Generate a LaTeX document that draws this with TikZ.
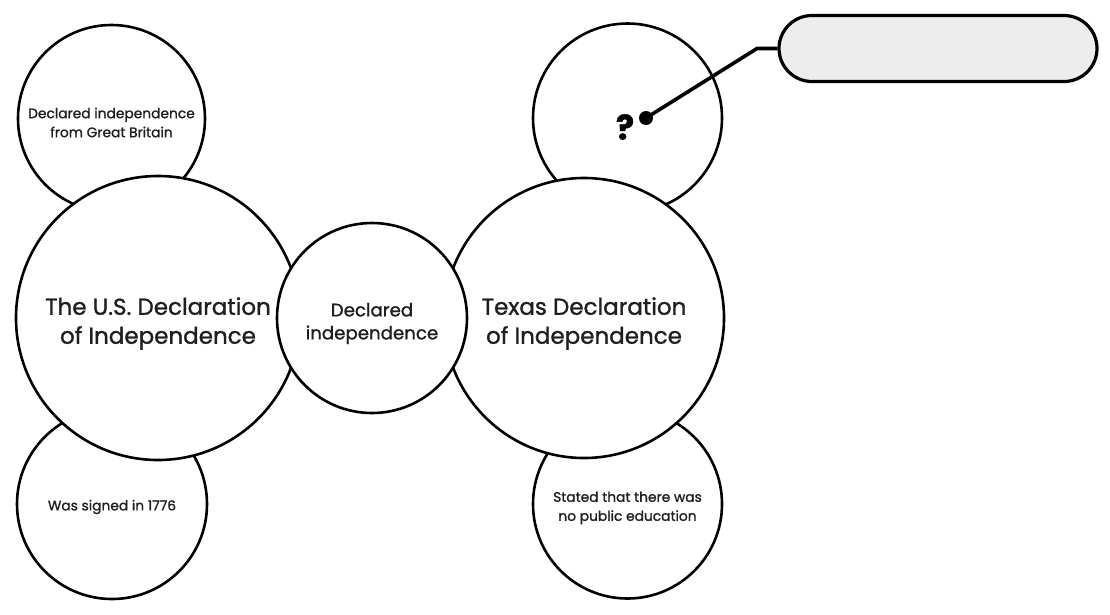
\documentclass[tikz,border=0pt]{standalone}
\usepackage{fontspec}
\setmainfont{Poppins}[FakeBold=1.2]
\begin{document}
\begin{tikzpicture}[x=1pt,y=-1pt,
  bub/.style={circle,draw=black,fill=white,line width=2.6pt,inner sep=0pt},
  txt/.style={align=center,text=black!88,inner sep=0pt},
  smalltxt/.style={txt,font=\fontsize{13.8}{19}\selectfont},
  midtxt/.style={txt,font=\fontsize{18.2}{23}\selectfont},
  bigtxt/.style={txt,font=\fontsize{23}{29}\selectfont},
  pill/.style={draw=black,fill=black!7,line width=3.2pt,rounded corners=33pt,minimum width=318pt,minimum height=66pt},
  lead/.style={draw=black,line width=3.6pt}]
\useasboundingbox (0,0) rectangle (1110,614);
% small satellites (behind)
\node[bub,minimum size=187pt] (tl) at (111.5,118.5) {};
\node[bub,minimum size=190pt] (bl) at (112,504) {};
\node[bub,minimum size=189pt] (tr) at (627.5,118) {};
\node[bub,minimum size=189pt] (br) at (627.5,504) {};
\node[smalltxt] (tlt) at ([yshift=-4pt]tl.center) {Declared independence\\from Great Britain};
\node[smalltxt] (blt) at ([yshift=-3pt]bl.center) {Was signed in 1776};
\node[smalltxt] (brt) at ([yshift=-4pt]br.center) {Stated that there was\\no public education};
% big circles
\node[bub,minimum size=284pt] (us) at (158,318) {};
\node[bub,minimum size=280pt] (tx) at (584,318) {};
\node[bigtxt] (ust) at ([yshift=-5.5pt]us.center) {The U.S. Declaration\\of Independence};
\node[bigtxt] (txt) at ([yshift=-5.5pt]tx.center) {Texas Declaration\\of Independence};
% centre
\node[bub,minimum size=190pt] (mid) at (372,318) {};
\node[midtxt] (midt) at ([yshift=-5.5pt]mid.center) {Declared\\independence};
% question mark and callout
\node[font=\fontsize{34}{34}\selectfont\bfseries,inner sep=0pt] (q) at (625,127) {?};
\node[pill] (box) at (938,48.5) {};
\coordinate (elbow) at (757,48.5);
\draw[lead] (646,118) -- (elbow) -- (box.west);
\node[circle,fill=black,minimum size=14pt,inner sep=0pt] (dot) at (646,118) {};
\end{tikzpicture}
\end{document}
